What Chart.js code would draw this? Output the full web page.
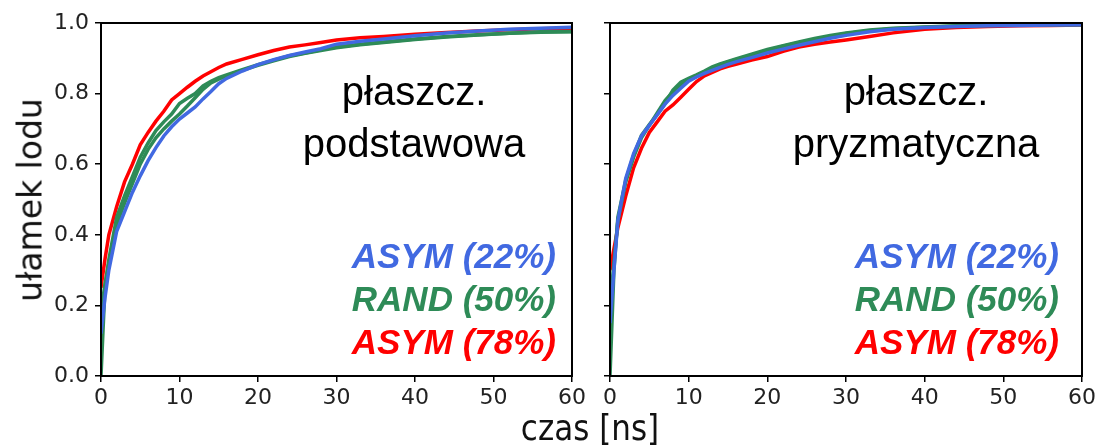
<!DOCTYPE html>
<html>
<head>
<meta charset="utf-8">
<script src="https://cdn.jsdelivr.net/npm/chart.js@4/dist/chart.umd.min.js"></script>
<style>
  body { margin: 0; background: #fff; width: 1099px; height: 448px; overflow: hidden; position: relative; font-family: "DejaVu Sans", sans-serif; }
  #wrapL { position: absolute; left: 0; top: 0; width: 590px; height: 448px; }
  #wrapR { position: absolute; left: 590px; top: 0; width: 509px; height: 448px; }
  .ylab { position: absolute; left: 30px; top: 200px; transform: translate(-50%, -50%) rotate(-90deg); font-size: 33px; color: #111; white-space: nowrap; }
  .xlab { position: absolute; left: 590px; top: 428px; transform: translate(-50%, -50%) scaleY(1.12); font-size: 31px; color: #111; white-space: nowrap; }
</style>
</head>
<body>
<div id="wrapL"><canvas id="lewy"></canvas></div>
<div id="wrapR"><canvas id="prawy"></canvas></div>
<div class="ylab">ułamek lodu</div>
<div class="xlab">czas [ns]</div>
<script>
// czas [ns]
const czas = [0, 0.5, 1, 2, 3, 4, 5, 6, 7, 8, 9, 10, 11, 12, 13, 14, 15, 16, 18, 20, 22, 24, 26, 28, 30, 33, 36, 40, 44, 48, 52, 56, 60];
const yTicks = [0, 0.2, 0.4, 0.6, 0.8, 1.0];
const xTicks = [0, 10, 20, 30, 40, 50, 60];

// płaszczyzna podstawowa
const podst_asym22 = [0.12, 0.22, 0.30, 0.41, 0.465, 0.52, 0.567, 0.61, 0.647, 0.68, 0.706, 0.728, 0.745, 0.762, 0.785, 0.806, 0.828, 0.843, 0.864, 0.882, 0.896, 0.908, 0.918, 0.927, 0.94, 0.948, 0.955, 0.964, 0.972, 0.977, 0.982, 0.985, 0.988];
const podst_rand50a = [0.0, 0.25, 0.33, 0.45, 0.51, 0.565, 0.62, 0.66, 0.695, 0.72, 0.742, 0.772, 0.787, 0.80, 0.822, 0.835, 0.845, 0.853, 0.868, 0.882, 0.895, 0.907, 0.915, 0.924, 0.932, 0.94, 0.946, 0.955, 0.962, 0.967, 0.971, 0.975, 0.976];
const podst_rand50b = [0.18, 0.26, 0.32, 0.43, 0.49, 0.545, 0.60, 0.642, 0.675, 0.70, 0.722, 0.742, 0.765, 0.788, 0.812, 0.83, 0.841, 0.85, 0.866, 0.88, 0.893, 0.905, 0.914, 0.922, 0.93, 0.938, 0.945, 0.953, 0.96, 0.966, 0.971, 0.974, 0.975];
const podst_asym78 = [0.25, 0.33, 0.40, 0.48, 0.55, 0.60, 0.655, 0.69, 0.722, 0.75, 0.782, 0.80, 0.818, 0.835, 0.85, 0.862, 0.874, 0.884, 0.897, 0.91, 0.922, 0.932, 0.938, 0.945, 0.952, 0.958, 0.962, 0.968, 0.973, 0.977, 0.981, 0.984, 0.985];

// płaszczyzna pryzmatyczna
const pryzm_asym22 = [0.15, 0.30, 0.44, 0.56, 0.63, 0.68, 0.71, 0.74, 0.77, 0.795, 0.815, 0.835, 0.847, 0.857, 0.866, 0.874, 0.883, 0.89, 0.902, 0.915, 0.926, 0.937, 0.947, 0.957, 0.965, 0.975, 0.982, 0.987, 0.99, 0.992, 0.993, 0.994, 0.995];
const pryzm_rand50a = [0.0, 0.30, 0.45, 0.555, 0.625, 0.682, 0.712, 0.74, 0.772, 0.81, 0.832, 0.843, 0.853, 0.864, 0.876, 0.884, 0.891, 0.898, 0.912, 0.925, 0.936, 0.946, 0.956, 0.965, 0.972, 0.98, 0.985, 0.989, 0.992, 0.994, 0.995, 0.996, 0.996];
const pryzm_rand50b = [0.20, 0.32, 0.44, 0.55, 0.62, 0.675, 0.71, 0.745, 0.78, 0.805, 0.825, 0.84, 0.85, 0.86, 0.872, 0.882, 0.89, 0.896, 0.909, 0.922, 0.934, 0.944, 0.953, 0.962, 0.97, 0.978, 0.984, 0.988, 0.991, 0.993, 0.994, 0.995, 0.995];
const pryzm_asym78 = [0.30, 0.36, 0.42, 0.51, 0.59, 0.645, 0.69, 0.72, 0.75, 0.768, 0.79, 0.812, 0.834, 0.85, 0.86, 0.87, 0.877, 0.883, 0.895, 0.905, 0.92, 0.932, 0.94, 0.946, 0.952, 0.962, 0.972, 0.982, 0.987, 0.99, 0.992, 0.993, 0.994];

const etykiety = ['ASYM (22%)', 'RAND (50%)', 'ASYM (78%)'];
const kolory = ['#4169e1', '#2e8b57', '#ff0000'];

function pts(arr) { return czas.map((t, i) => ({ x: t, y: arr[i] })); }

function ds(arr, col) {
  return { data: pts(arr), borderColor: col, borderWidth: 3.5, pointRadius: 0, fill: false, tension: 0 };
}

function napisy(linie, cx, rx) {
  return {
    id: 'napisy',
    afterDraw(chart) {
      const c = chart.ctx, a = chart.chartArea;
      c.save();
      // ramka
      c.strokeStyle = '#000';
      c.lineWidth = 2;
      c.strokeRect(a.left, a.top, a.right - a.left, a.bottom - a.top);
      c.fillStyle = '#000';
      c.font = '40px "Liberation Sans", Arial, sans-serif';
      c.textAlign = 'center';
      c.textBaseline = 'alphabetic';
      c.fillText(linie[0], a.left + cx, 105);
      c.fillText(linie[1], a.left + cx, 157);
      c.font = 'italic bold 35px "Liberation Sans", Arial, sans-serif';
      c.textAlign = 'right';
      etykiety.forEach((t, i) => {
        c.fillStyle = kolory[i];
        c.fillText(t, a.right - rx, 268 + i * 43);
      });
      c.restore();
    }
  };
}

function wykres(id, serie, linie, cx, rx, pokazY, yWidth, pad) {
  return new Chart(document.getElementById(id), {
    type: 'line',
    data: {
      datasets: [
        ds(serie[0], kolory[0]),
        ds(serie[1], kolory[1]),
        ds(serie[2], kolory[1]),
        ds(serie[3], kolory[2])
      ]
    },
    options: {
      responsive: true,
      maintainAspectRatio: false,
      animation: false,
      layout: { padding: pad },
      plugins: { legend: { display: false }, tooltip: { enabled: false } },
      scales: {
        x: {
          type: 'linear', min: 0, max: 60,
          afterBuildTicks: s => { s.ticks = xTicks.map(v => ({ value: v })); },
          afterFit: s => { s.height = 72; },
          grid: { drawOnChartArea: false, drawTicks: true, tickLength: 6, color: '#000', lineWidth: 1.5 },
          border: { display: true, color: '#000', width: 2 },
          ticks: { color: '#222', font: { family: 'DejaVu Sans', size: 22 }, padding: 3, maxRotation: 0 }
        },
        y: {
          type: 'linear', min: 0, max: 1,
          afterBuildTicks: s => { s.ticks = yTicks.map(v => ({ value: v })); },
          afterFit: s => { s.width = yWidth; },
          grid: { drawOnChartArea: false, drawTicks: true, tickLength: 6, color: '#000', lineWidth: 1.5 },
          border: { display: true, color: '#000', width: 2 },
          ticks: {
            color: '#222', font: { family: 'DejaVu Sans', size: 22 }, padding: 6,
            callback: v => pokazY ? v.toFixed(1) : ''
          }
        }
      }
    },
    plugins: [napisy(linie, cx, rx)]
  });
}

wykres('lewy', [podst_asym22, podst_rand50a, podst_rand50b, podst_asym78],
  ['płaszcz.', 'podstawowa'], 313, 16, true, 101, { left: 0, top: 23, right: 18, bottom: 0 });
wykres('prawy', [pryzm_asym22, pryzm_rand50a, pryzm_rand50b, pryzm_asym78],
  ['płaszcz.', 'pryzmatyczna'], 306, 23, false, 20, { left: 0, top: 23, right: 16, bottom: 0 });
</script>
</body>
</html>
